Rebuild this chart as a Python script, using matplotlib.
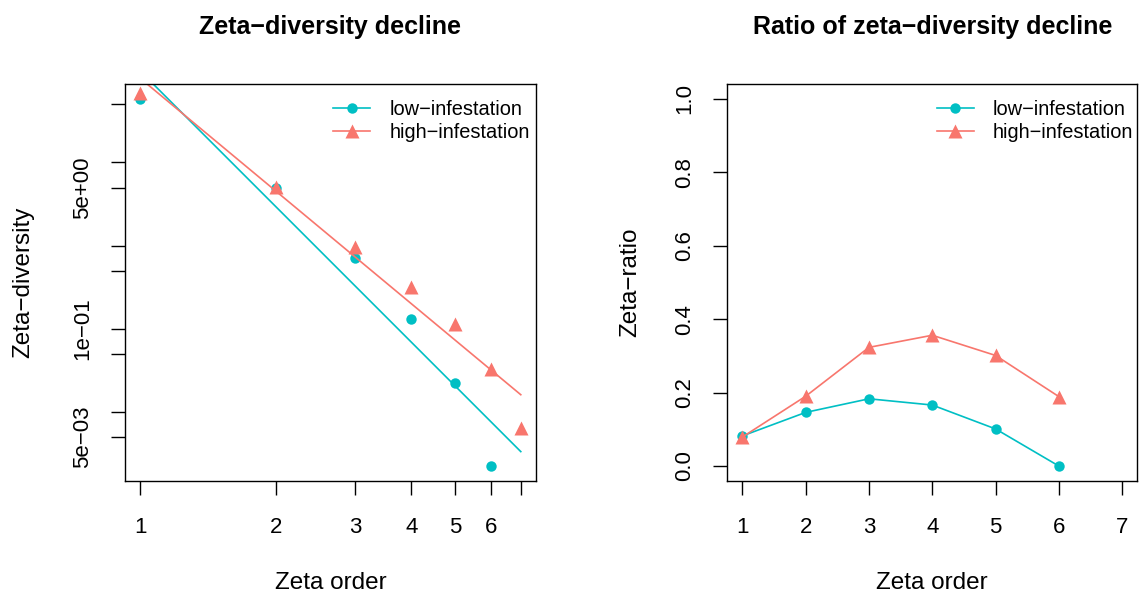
import numpy as np
import matplotlib
matplotlib.use("Agg")
import matplotlib.pyplot as plt

plt.rcParams["font.family"] = ["Liberation Sans", "DejaVu Sans"]

# zeta diversity by order
orders = [1, 2, 3, 4, 5, 6, 7]
zeta_low = [58.5, 4.9, 0.717, 0.132, 0.022, 0.00224]      # order 7 is zero, not drawn on log axis
zeta_high = [68.6, 5.1, 0.97, 0.315, 0.114, 0.0333, 0.00645]

# zeta ratio (zeta_{k+1} / zeta_k)
ratio_orders = [1, 2, 3, 4, 5, 6]
ratio_low = [0.082, 0.146, 0.183, 0.166, 0.101, 0.0]
ratio_high = [0.079, 0.190, 0.323, 0.356, 0.301, 0.189]

series_names = ["low\u2212infestation", "high\u2212infestation"]
col_low = "#00BFC4"
col_high = "#F8766D"

left_yticks = [50, 10, 5, 1, 0.5, 0.1, 0.05, 0.01, 0.005]
left_yticklabels = ["", "", "5e+00", "", "", "1e\u221201", "", "", "5e\u221203"]
left_xticklabels = ["1", "2", "3", "4", "5", "6", ""]
right_yticks = [0.0, 0.2, 0.4, 0.6, 0.8, 1.0]

fig = plt.figure(figsize=(11.39, 5.97), dpi=100)
ax1 = fig.add_axes([0.1097, 0.1948, 0.3609, 0.6645])
ax2 = fig.add_axes([0.6385, 0.1948, 0.3600, 0.6645])

# ---- left panel: zeta decline, log-log with power-law fits
x_low = np.array(orders[:len(zeta_low)])
x_high = np.array(orders[:len(zeta_high)])
ax1.plot(x_low, zeta_low, "o", color=col_low, ms=7.5, mec="none")
ax1.plot(x_high, zeta_high, "^", color=col_high, ms=10, mec="none")

xs = np.array([orders[0], orders[-1]], dtype=float)
b_low, a_low = np.polyfit(np.log10(x_low), np.log10(zeta_low), 1)
b_high, a_high = np.polyfit(np.log10(x_high), np.log10(zeta_high), 1)
ax1.plot(xs, 10 ** (a_low + b_low * np.log10(xs)), color=col_low, lw=1.2)
ax1.plot(xs, 10 ** (a_high + b_high * np.log10(xs)), color=col_high, lw=1.2)

ax1.set_xscale("log")
ax1.set_yscale("log")
lx0, lx1 = np.log10(min(orders)), np.log10(max(orders))
px = 0.04 * (lx1 - lx0)
ax1.set_xlim(10 ** (lx0 - px), 10 ** (lx1 + px))
ly0, ly1 = np.log10(min(zeta_low)), np.log10(max(zeta_low))
py = 0.04 * (ly1 - ly0)
ax1.set_ylim(10 ** (ly0 - py), 10 ** (ly1 + py))
ax1.set_xticks(orders)
ax1.set_xticklabels(left_xticklabels)
ax1.set_yticks(left_yticks)
ax1.set_yticklabels(left_yticklabels, rotation=90, va="center")
ax1.minorticks_off()
ax1.set_title("Zeta\u2212diversity decline", fontsize=18, fontweight="bold", pad=36)
ax1.set_xlabel("Zeta order", fontsize=17.5)
ax1.set_ylabel("Zeta\u2212diversity", fontsize=17.5)
ax1.xaxis.set_label_coords(0.5, -0.258)
ax1.yaxis.set_label_coords(-0.248, 0.5)

h1, = ax1.plot([], [], "-o", color=col_low, ms=7.5, mec="none", lw=1.2)
h2, = ax1.plot([], [], "-^", color=col_high, ms=10, mec="none", lw=1.2)
ax1.legend([h1, h2], series_names, loc="upper right", bbox_to_anchor=(0.985, 0.96),
           frameon=False, fontsize=14.4, handlelength=1.85, handletextpad=0.95,
           labelspacing=0.2, borderpad=0, borderaxespad=0)

# ---- right panel: zeta ratio
ax2.plot(ratio_orders, ratio_low, "-o", color=col_low, ms=7.5, mec="none", lw=1.2)
ax2.plot(ratio_orders, ratio_high, "-^", color=col_high, ms=10, mec="none", lw=1.2)
ax2.set_xlim(1 - 0.24, 7 + 0.24)
ax2.set_ylim(-0.04, 1.04)
ax2.set_xticks(orders)
ax2.set_yticks(right_yticks)
ax2.set_yticklabels([f"{v:.1f}" for v in right_yticks], rotation=90, va="center")
ax2.set_title("Ratio of zeta\u2212diversity decline", fontsize=18, fontweight="bold", pad=36)
ax2.set_xlabel("Zeta order", fontsize=17.5)
ax2.set_ylabel("Zeta\u2212ratio", fontsize=17.5)
ax2.xaxis.set_label_coords(0.5, -0.258)
ax2.yaxis.set_label_coords(-0.237, 0.5)
ax2.legend(series_names, loc="upper right", bbox_to_anchor=(0.99, 0.96),
           frameon=False, fontsize=14.4, handlelength=1.85, handletextpad=0.95,
           labelspacing=0.2, borderpad=0, borderaxespad=0)

for ax in (ax1, ax2):
    ax.tick_params(axis="both", length=10, width=1, labelsize=16, direction="out")
    ax.tick_params(axis="x", pad=16)
    ax.tick_params(axis="y", pad=13)
    ax.xaxis.label.set_va("center")
    ax.yaxis.label.set_va("center")
    for s in ax.spines.values():
        s.set_linewidth(1.0)

plt.savefig("out.png", dpi=100)
